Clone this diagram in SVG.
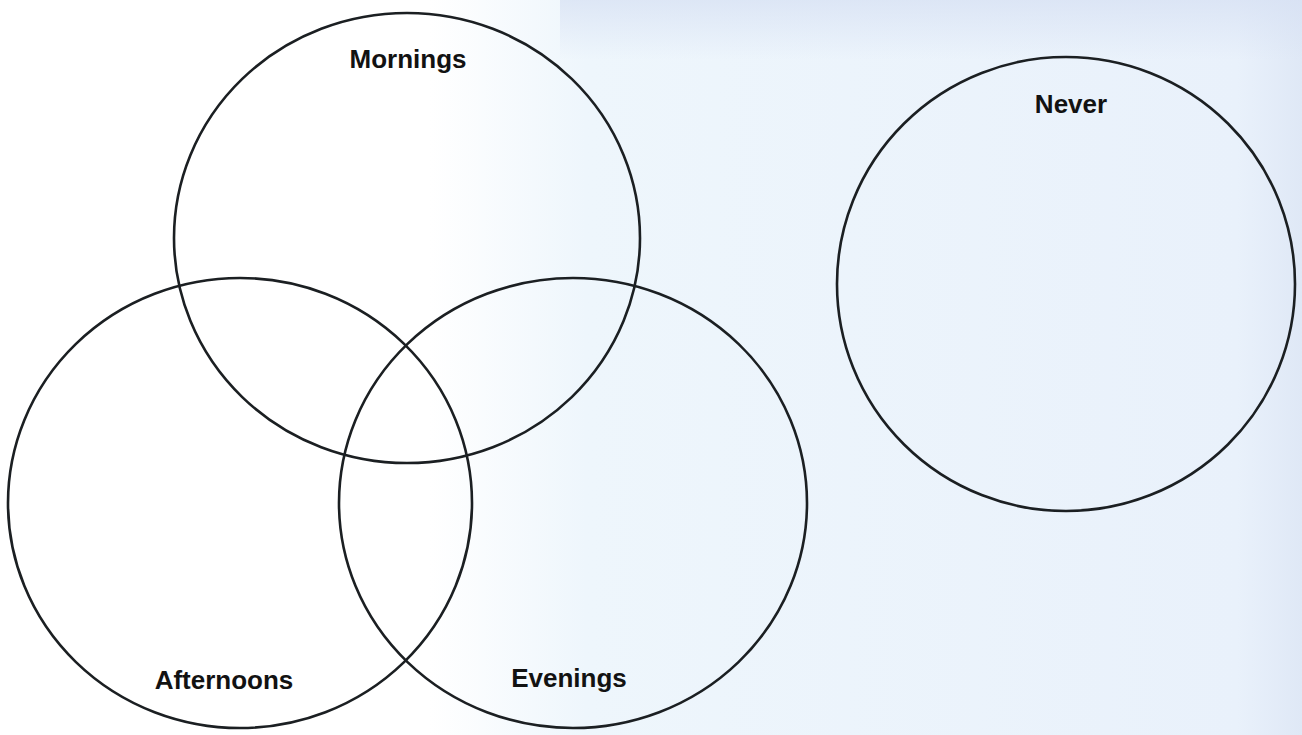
<svg xmlns="http://www.w3.org/2000/svg" width="1302" height="735" viewBox="0 0 1302 735">
  <defs>
    <linearGradient id="bg" x1="0" y1="0" x2="1" y2="0">
      <stop offset="0" stop-color="#ffffff"/>
      <stop offset="0.33" stop-color="#ffffff"/>
      <stop offset="0.45" stop-color="#eef6fc"/>
      <stop offset="0.95" stop-color="#e9f1fb"/>
      <stop offset="1" stop-color="#dfe8f6"/>
    </linearGradient>
    <linearGradient id="topshade" x1="0" y1="0" x2="0" y2="1">
      <stop offset="0" stop-color="#d6e0f3" stop-opacity="0.7"/>
      <stop offset="1" stop-color="#d6e0f3" stop-opacity="0"/>
    </linearGradient>
  </defs>
  <style>
    .ring { fill: none; stroke: #1b1f22; stroke-width: 2.6; }
    .label { font-family: "Liberation Sans", Arial, sans-serif; font-weight: bold; font-size: 26px; fill: #121212; text-anchor: middle; }
  </style>
  <rect x="0" y="0" width="1302" height="735" fill="url(#bg)"/>
  <rect x="560" y="0" width="742" height="60" fill="url(#topshade)"/>

  <g id="mornings">
    <ellipse class="ring" cx="407" cy="238" rx="233" ry="225"/>
    <text class="label" x="408" y="68">Mornings</text>
  </g>
  <g id="afternoons">
    <ellipse class="ring" cx="240" cy="503" rx="232" ry="225"/>
    <text class="label" x="224" y="689">Afternoons</text>
  </g>
  <g id="evenings">
    <ellipse class="ring" cx="573" cy="503" rx="234" ry="225"/>
    <text class="label" x="569" y="687">Evenings</text>
  </g>
  <g id="never">
    <ellipse class="ring" cx="1066" cy="284" rx="229" ry="227"/>
    <text class="label" x="1071" y="113">Never</text>
  </g>
  <g id="connectors"></g>
</svg>
